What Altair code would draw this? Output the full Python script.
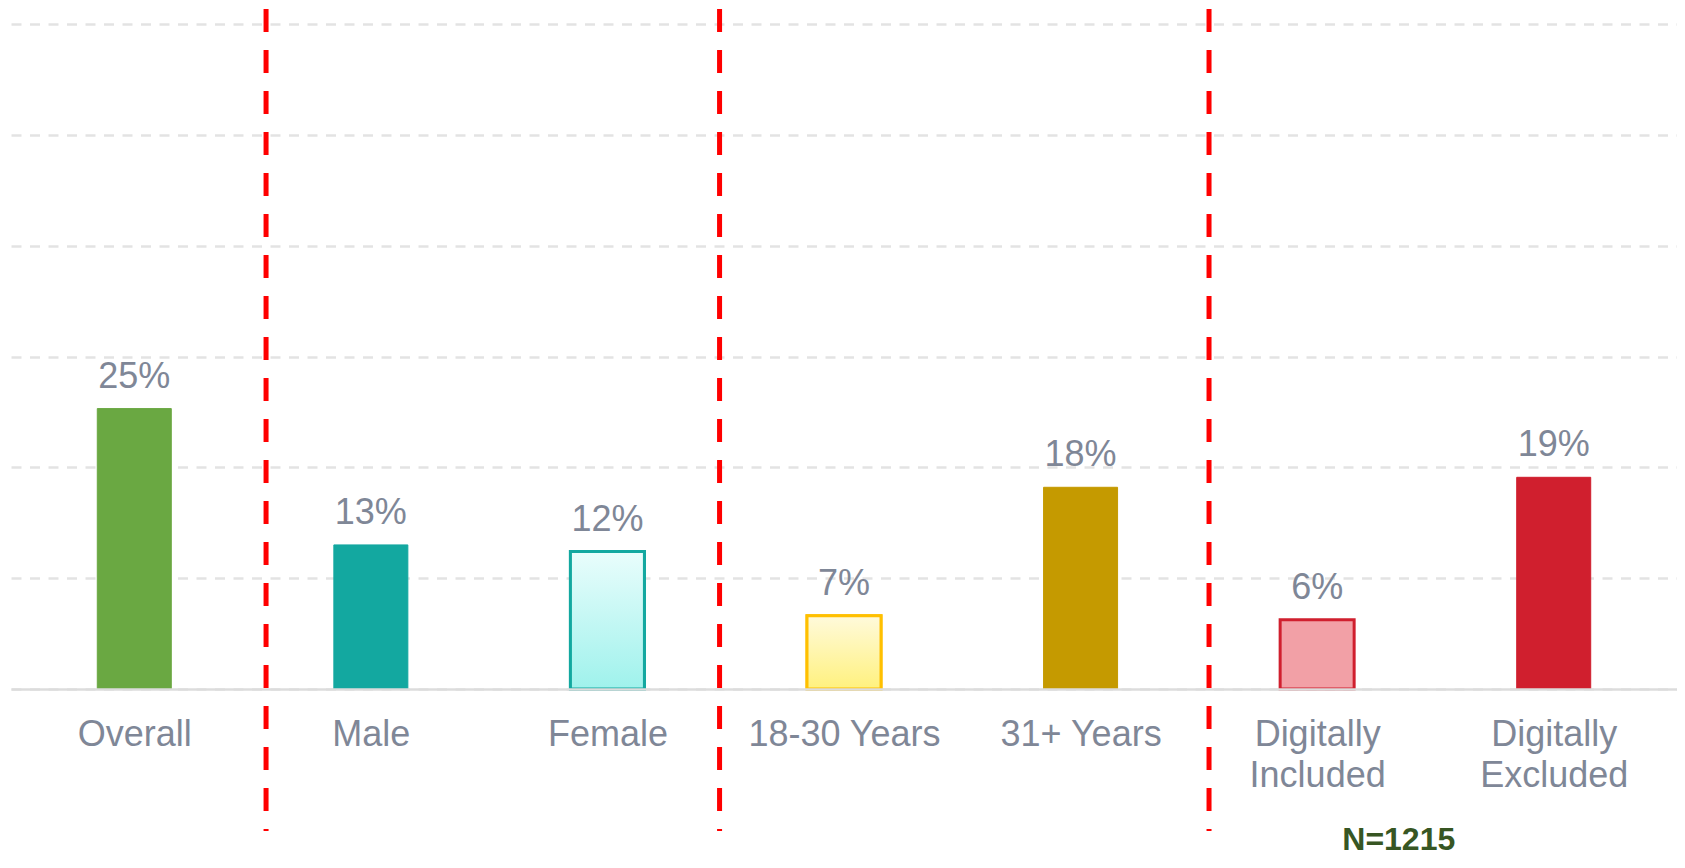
import altair as alt
import pandas as pd

# ---- data ----
categories = ["Overall", "Male", "Female", "18-30 Years", "31+ Years",
              "Digitally\nIncluded", "Digitally\nExcluded"]
values = [25.3, 13.0, 12.4, 6.6, 18.2, 6.25, 19.1]
value_labels = ["25%", "13%", "12%", "7%", "18%", "6%", "19%"]
group_separators = [0.557, 2.474, 4.543]   # between Overall|Male, Female|18-30, 31+|Digitally
note_text = ["N=1215"]
note_pos = [5.345]

# ---- styles ----
fill_colors = ["#6aa842", "#13a8a0", "#c4f7f4", "#fff5b0", "#c59a00", "#f2a0a6", "#d01f2e"]
stroke_colors = ["#6aa842", "#13a8a0", "#13a8a0", "#ffc000", "#c59a00", "#d01f2e", "#d01f2e"]
stroke_widths = [1, 1, 3, 3, 1, 3, 1]
FONT = "Liberation Sans"
TXT = "#7f8797"

df = pd.DataFrame({
    "idx": list(range(len(categories))),
    "cat": categories,
    "val": values,
    "lab": value_labels,
    "fill": fill_colors,
    "stroke": stroke_colors,
    "sw": stroke_widths,
})
sep_df = pd.DataFrame({"pos": group_separators})
note_df = pd.DataFrame({"pos": note_pos, "txt": note_text})

xscale = alt.Scale(domain=[-0.5, len(categories) - 0.5], nice=False, zero=False)
yscale = alt.Scale(domain=[0, 60], nice=False)

names_js = "[" + ",".join("'" + c.replace("\n", "\\n") + "'" for c in categories) + "]"

x_axis = alt.Axis(
    values=list(range(len(categories))),
    labelExpr=f"split({names_js}[datum.value], '\\n')",
    title=None, ticks=False, grid=False,
    labelFont=FONT, labelFontSize=36, labelColor=TXT, labelLimit=0,
    labelPadding=28, labelLineHeight=41, labelBaseline="top",
    labelOverlap=False, labelFlush=False, labelBound=False,
    domainColor="#dcdcdc", domainWidth=2.5, zindex=1,
)
y_axis = alt.Axis(
    values=[0, 10, 20, 30, 40, 50, 60], title=None, labels=False, ticks=False,
    domain=False, grid=True, gridColor="#e3e3e3", gridWidth=2.5, gridDash=[10, 8.5],
)

base = alt.Chart(df)

bars = base.mark_bar(size=74).encode(
    x=alt.X("idx:Q", scale=xscale, axis=x_axis),
    y=alt.Y("val:Q", scale=yscale, axis=y_axis),
    fill=alt.Fill("fill:N", scale=None),
    stroke=alt.Stroke("stroke:N", scale=None),
    strokeWidth=alt.StrokeWidth("sw:Q", scale=None),
)


def grad_layer(cat, top, bottom, stroke):
    return base.transform_filter(alt.datum.cat == cat).mark_bar(
        size=74,
        fill={"gradient": "linear", "x1": 0, "y1": 0, "x2": 0, "y2": 1,
              "stops": [{"offset": 0, "color": top}, {"offset": 1, "color": bottom}]},
        stroke=stroke, strokeWidth=3,
    ).encode(
        x=alt.X("idx:Q", scale=xscale, title=None),
        y=alt.Y("val:Q", scale=yscale, title=None),
    )


g_female = grad_layer("Female", "#e9fdfc", "#9ff2ec", "#13a8a0")
g_young = grad_layer("18-30 Years", "#fffadb", "#fff17e", "#ffc000")

texts = base.mark_text(dy=-21, fontSize=36, font=FONT, color=TXT, baseline="alphabetic").encode(
    x=alt.X("idx:Q", scale=xscale, title=None),
    y=alt.Y("val:Q", scale=yscale, title=None),
    text="lab:N",
)

rules = alt.Chart(sep_df).mark_rule(color="#ff0000", strokeWidth=5, strokeDash=[23, 18]).encode(
    x=alt.X("pos:Q", scale=xscale, title=None),
    y=alt.value(-15),
    y2=alt.value(807),
)

note = alt.Chart(note_df).mark_text(
    font=FONT, fontSize=32, fontWeight="bold", color="#375623", baseline="alphabetic", align="center"
).encode(
    x=alt.X("pos:Q", scale=xscale, title=None),
    y=alt.value(826),
    text="txt:N",
)

chart = alt.layer(bars, g_female, g_young, texts, rules, note).properties(
    width=1666, height=665,
    padding={"left": 3, "top": 16, "right": 0, "bottom": 171},
    autosize=alt.AutoSizeParams(type="none"),
).configure_view(stroke=None)

chart.save("out.html", embed_options={"renderer": "svg", "actions": False})
